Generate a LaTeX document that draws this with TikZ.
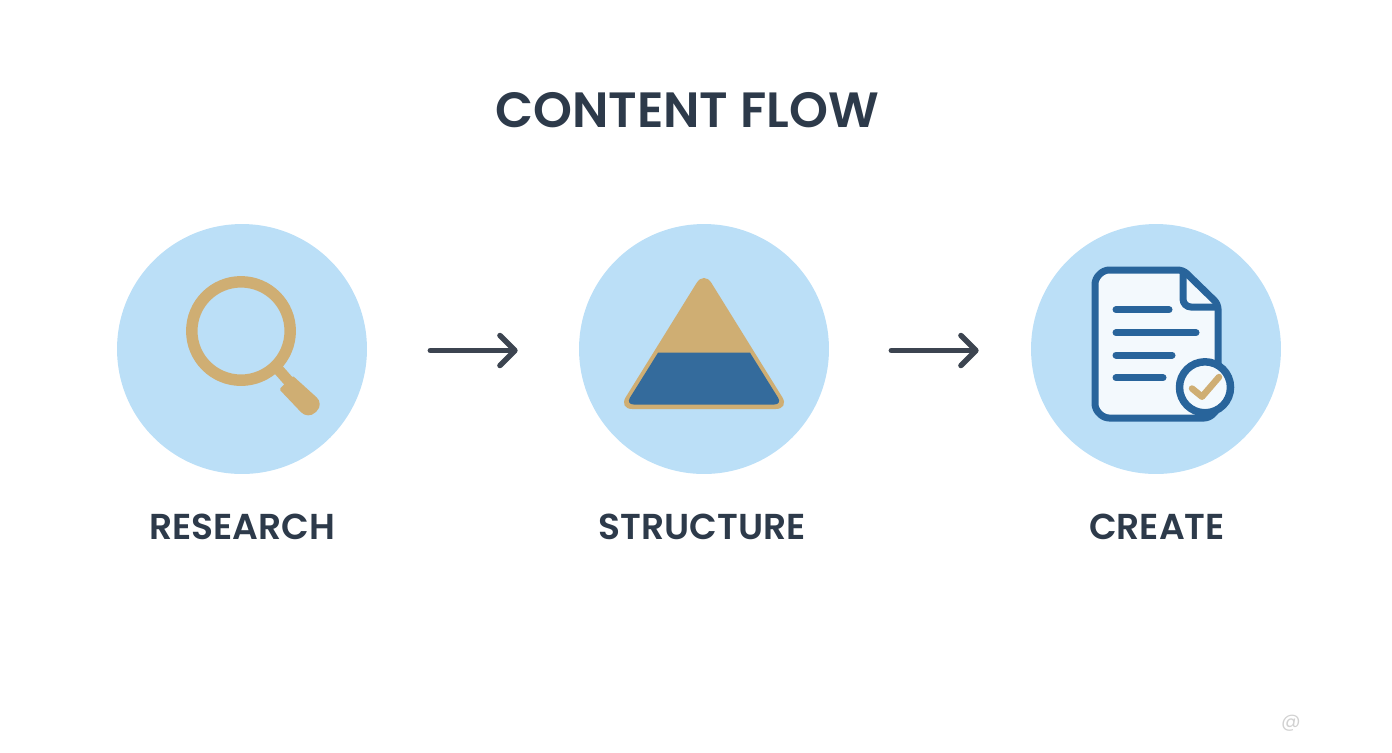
\documentclass[tikz,border=0pt]{standalone}
\usepackage{fontspec}
\setmainfont{Poppins}
\newfontfamily\semifont{Poppins SemiBold}
\usepackage{tikz}
\usetikzlibrary{arrows.meta,positioning}
\definecolor{cfsky}{RGB}{187,223,247}
\definecolor{cftan}{RGB}{207,174,115}
\definecolor{cfblue}{RGB}{52,107,156}
\definecolor{cfdeep}{RGB}{40,100,155}
\definecolor{cfink}{RGB}{45,58,74}
\definecolor{cfarrow}{RGB}{60,68,80}
\definecolor{cfpaper}{RGB}{243,249,253}
\tikzstyle{stage} = [circle, minimum size=5cm, inner sep=0pt, fill=cfsky]
\tikzstyle{arrow} = [line width=0.11cm, line cap=round, color=cfarrow, -{Straight Barb[length=0.3cm,width=0.6cm,round]}]
\tikzstyle{caption} = [font=\fontsize{20.5}{24}\semifont, text=cfink]
\tikzstyle{docline} = [line width=0.14cm, line cap=round, color=cfdeep]

\begin{document}
\begin{tikzpicture}[x=0.02cm,y=-0.02cm]
\useasboundingbox (0,0) rectangle (1392,752);

% Title
\node[font=\fontsize{28.2}{34}\semifont, text=cfink] (title) at (687,110) {CONTENT FLOW};

% Stages
\node[stage] (research) at (242,349) {};
\node[stage] (structure) at (704,349) {};
\node[stage] (create) at (1156,349) {};

% Captions
\node[caption] (researchlabel) at (242,527) {RESEARCH};
\node[caption] (structurelabel) at (702,527) {STRUCTURE};
\node[caption] (createlabel) at (1157,527) {CREATE};

% Arrows
\draw[arrow, shorten <=1.26cm, shorten >=1.22cm] ([yshift=-0.03cm]research.east) -- ([yshift=-0.03cm]structure.west);
\draw[arrow, shorten <=1.24cm, shorten >=1.04cm] ([yshift=-0.03cm]structure.east) -- ([yshift=-0.03cm]create.west);

% Magnifier
\draw[cftan, line width=0.23cm] (241,331) circle (49.2);
\draw[cftan, line width=0.22cm] (277,368) -- (292,385);
\fill[cftan, rounded corners=0.03cm] (292.7,375.7) -- (279.3,389.3) [rounded corners=0.2cm] -- (308,419.5) -- (324,404) [rounded corners=0.03cm] -- cycle;

% Pyramid
\fill[cftan, rounded corners=0.28cm] (704,271) -- (789.6,409) -- (618.4,409) -- cycle;
\fill[cfblue] (658,352.7) -- (750,352.7) [rounded corners=0.16cm] -- (782.3,404.5) -- (625.7,404.5) [sharp corners] -- cycle;

% Document
\draw[cfdeep, fill=cfpaper, line width=0.14cm, line join=round, rounded corners=0.1cm] (1183,270) -- (1104,270) -- (1095,279) -- (1095,409) -- (1104,418) -- (1209,418) -- (1218,409) -- (1218,304) -- cycle;
\draw[cfdeep, line width=0.14cm, rounded corners=0.16cm] (1183,270) -- (1183,307) -- (1218,307);
\draw[docline] (1116,309.7) -- (1169,309.7);
\draw[docline] (1116,332.7) -- (1196,332.7);
\draw[docline] (1116,355) -- (1172,355);
\draw[docline] (1116,377.7) -- (1163,377.7);

% Check badge
\draw[cfdeep, fill=cfpaper, line width=0.15cm] (1205,387.3) circle (25.5);
\draw[cftan, line width=0.13cm, line cap=round, line join=round] (1192,388.5) -- (1202,396.7) -- (1219,377);

% Mark
\node[font=\fontsize{11}{13}\selectfont, text=black!18] (mark) at (1291,723) {@};
\end{tikzpicture}
\end{document}
